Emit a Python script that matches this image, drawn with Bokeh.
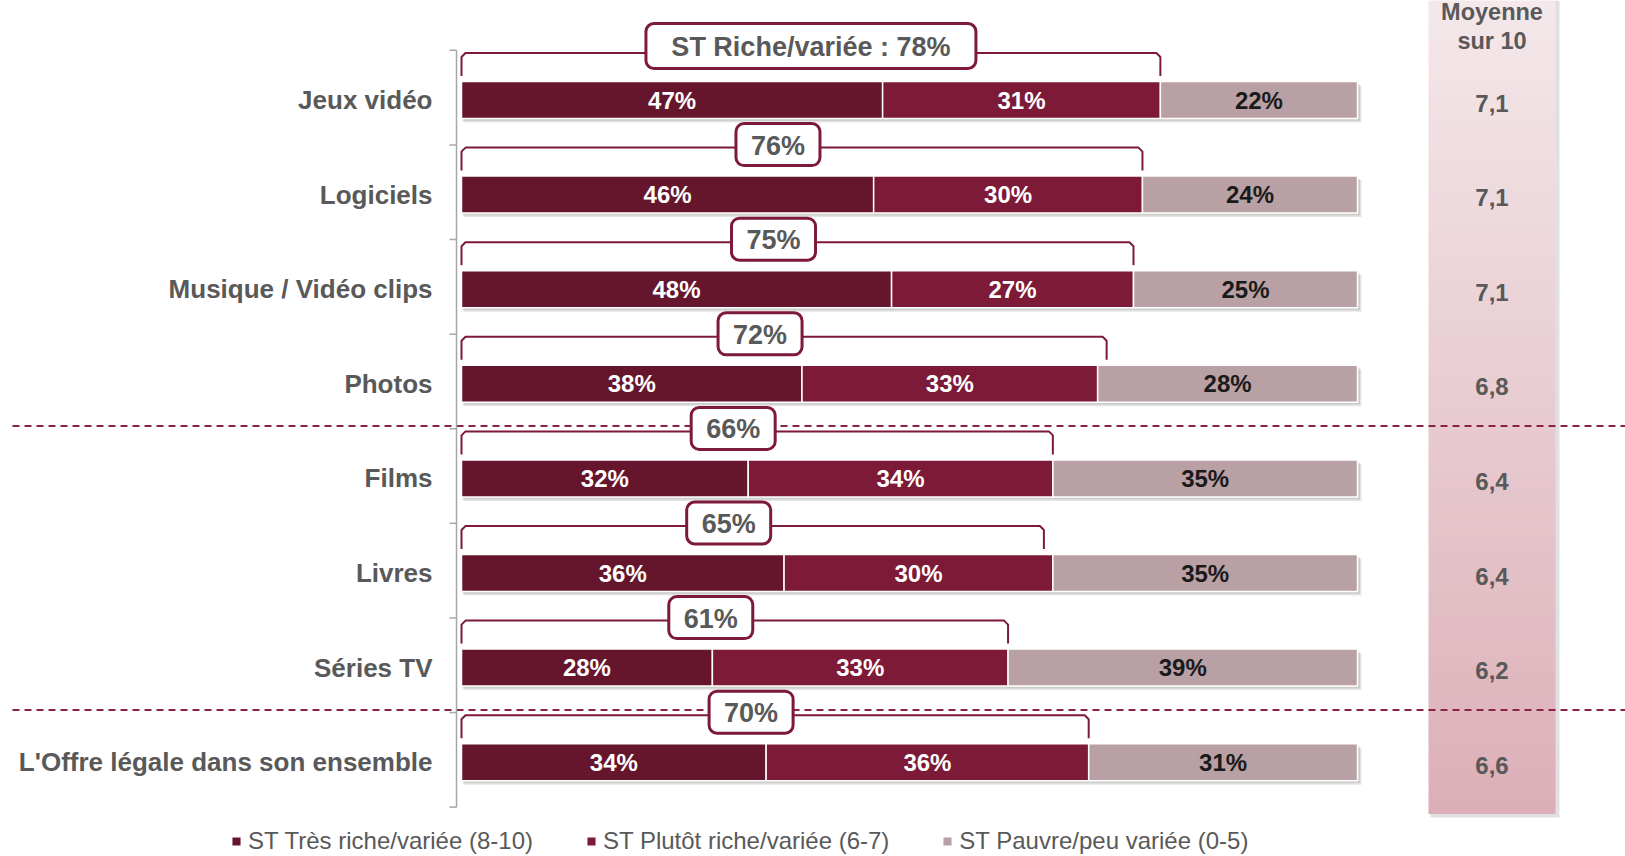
import numpy as np
from bokeh.plotting import figure
from bokeh.models import Range1d, ColumnDataSource, Legend, LegendItem
from bokeh.core.properties import value
from bokeh.embed import file_html
from bokeh.resources import INLINE

# ---------------- data ----------------
categories = ["Jeux vidéo", "Logiciels", "Musique / Vidéo clips", "Photos",
              "Films", "Livres", "Séries TV", "L'Offre légale dans son ensemble"]
tres_riche = [47, 46, 48, 38, 32, 36, 28, 34]
plutot_riche = [31, 30, 27, 33, 34, 30, 33, 36]
pauvre = [22, 24, 25, 28, 35, 35, 39, 31]
st_riche = [78, 76, 75, 72, 66, 65, 61, 70]
st_labels = ["ST Riche/variée : 78%", "76%", "75%", "72%", "66%", "65%", "61%", "70%"]
moyenne = ["7,1", "7,1", "7,1", "6,8", "6,4", "6,4", "6,2", "6,6"]
moyenne_title = "Moyenne\nsur 10"
legend_labels = ["ST Très riche/variée (8-10)", "ST Plutôt riche/variée (6-7)",
                 "ST Pauvre/peu variée (0-5)"]
separators = [3, 6]  # dashed lines drawn after these row indices

# ---------------- styles / layout ----------------
COLORS = ["#65162D", "#7D1A37", "#B9A0A4"]
TEXT_COLORS = ["#FFFFFF", "#FFFFFF", "#1A1A1A"]
BRACKET = "#7D1A37"
GRAY = "#595959"
FONT_NAME = "Liberation Sans"
FONT = value(FONT_NAME)

W, H = 1625, 856
PXX = 8.96      # px per percent
X0 = 461        # px of 0 %
PXY = 94.6      # px per row
Y0 = 99.5       # px of first row centre


def dx(px):
    return px / PXX


def dy(px):
    return px / PXY


def xpx(px):
    return (px - X0) / PXX


def ypx(px):
    return (px - Y0) / PXY


p = figure(width=W, height=H, output_backend="svg", toolbar_location=None,
           x_range=Range1d(xpx(0), xpx(W)), y_range=Range1d(ypx(H), ypx(0)),
           min_border=0, outline_line_color=None, background_fill_color="white",
           border_fill_color="white")
p.axis.visible = False
p.grid.visible = False

n = len(categories)
rows = np.arange(n)
t = np.array(tres_riche, float)
pl = np.array(plutot_riche, float)
st = np.array(st_riche, float)

# ---- right "Moyenne" panel with vertical gradient ----
pan_l, pan_r = xpx(1428), xpx(1555)
pan_top, pan_bot = ypx(0), ypx(813)
# shadow
p.quad(left=[pan_l + dx(2)], right=[pan_r + dx(4)], top=[pan_top], bottom=[pan_bot + dy(4)],
       fill_color="#000000", fill_alpha=0.12, line_color=None)
c0 = np.array([0xF4, 0xE8, 0xEA], float)
c1 = np.array([0xDC, 0xAF, 0xB8], float)
NS = 80
edges = np.linspace(pan_top, pan_bot, NS + 1)
cols = []
for k in range(NS):
    c = c0 + (c1 - c0) * (k + 0.5) / NS
    cols.append("#%02x%02x%02x" % tuple(int(round(v)) for v in c))
p.quad(left=[pan_l] * NS, right=[pan_r] * NS, top=edges[:-1], bottom=edges[1:] + dy(0.5),
       fill_color=cols, line_color=None)

pan_c = (pan_l + pan_r) / 2
p.text(x=[pan_c] * n, y=rows + dy(3), text=moyenne, text_align="center",
       text_baseline="middle", text_font=FONT, text_font_style="bold",
       text_font_size="24px", text_color=GRAY)
title_lines = moyenne_title.split("\n")
p.text(x=[pan_c] * 2, y=[ypx(11), ypx(40)], text=title_lines, text_align="center",
       text_baseline="middle", text_font=FONT, text_font_style="bold",
       text_font_size="23.5px", text_color=GRAY)

# ---- dashed separators ----
for s in separators:
    ys = s + 0.5 - dy(5)
    p.segment(x0=[xpx(12)], x1=[xpx(W)], y0=[ys], y1=[ys], line_color="#8B2346",
              line_width=2, line_dash="7 5")

# ---- left axis line with ticks ----
p.segment(x0=[xpx(456)], x1=[xpx(456)], y0=[-0.525], y1=[n - 0.525],
          line_color="#A6A6A6", line_width=1.5)
tk = np.arange(n + 1) - 0.525
p.segment(x0=[xpx(456)] * (n + 1), x1=[xpx(449)] * (n + 1), y0=tk, y1=tk,
          line_color="#A6A6A6", line_width=1.5)

# ---- category labels ----
p.text(x=[xpx(432)] * n, y=rows, text=categories, text_align="right",
       text_baseline="middle", text_font=FONT, text_font_style="bold",
       text_font_size="26px", text_color=GRAY)

# ---- stacked bars ----
BH = dy(37)
lefts = [np.zeros(n), t, t + pl]
rights = [t, t + pl, np.full(n, 100.0)]
vals = [tres_riche, plutot_riche, pauvre]
# shadow
p.hbar(y=rows + dy(4), height=BH, left=dx(2), right=100 + dx(4),
       fill_color="#000000", fill_alpha=0.10, line_color=None)
p.hbar(y=rows + dy(2.5), height=BH, left=dx(1), right=100 + dx(2.5),
       fill_color="#000000", fill_alpha=0.10, line_color=None)
bar_renderers = []
for k in range(3):
    src = ColumnDataSource(dict(y=rows, left=lefts[k], right=rights[k],
                                mid=(lefts[k] + rights[k]) / 2,
                                lab=["%d%%" % v for v in vals[k]]))
    r = p.hbar(y="y", height=BH, left="left", right="right", source=src,
               fill_color=COLORS[k], line_color="white", line_width=1.5)
    bar_renderers.append(r)
    p.text(x="mid", y="y", text="lab", source=src, text_align="center",
           text_baseline="middle", text_font=FONT, text_font_style="bold",
           text_font_size="24px", text_color=TEXT_COLORS[k])

# ---- brackets with ST labels ----
ytop = rows - dy(47)
yend = rows - dy(24)
xs, ys = [], []
for i in range(n):
    xs.append([0, 0, dx(4), st[i] - dx(4), st[i], st[i]])
    ys.append([yend[i], ytop[i] + dy(4), ytop[i], ytop[i], ytop[i] + dy(4), yend[i]])
p.multi_line(xs=xs, ys=ys, line_color=BRACKET, line_width=2)

is_long = np.array([len(s) > 5 for s in st_labels])
box_w = np.where(is_long, 330.0, 84.0)
box_h = np.where(is_long, 45.0, 42.0)
box_x = st / 2 - dx(np.where(is_long, 0.0, 24.0))
box_y = rows - dy(50) - dy(np.where(is_long, 4.0, 0.0))
p.hbar(y=box_y, height=dy(box_h), left=box_x - dx(box_w / 2), right=box_x + dx(box_w / 2),
       fill_color="white", line_color=BRACKET, line_width=3, border_radius=8)
p.text(x=box_x, y=box_y + dy(1), text=st_labels, text_align="center",
       text_baseline="middle", text_font=FONT, text_font_style="bold",
       text_font_size="27px", text_color=GRAY)

# ---- legend ----
legend = Legend(items=[LegendItem(label=legend_labels[k], renderers=[bar_renderers[k]])
                       for k in range(3)],
                orientation="horizontal", location=(230, 1), padding=0, margin=0,
                spacing=52, glyph_width=12, glyph_height=12, label_standoff=6,
                label_text_font=FONT_NAME, label_text_font_size="24px",
                label_text_color=GRAY, border_line_color=None,
                background_fill_alpha=0)
p.add_layout(legend)

open("out.html", "w").write(file_html(p, INLINE))
